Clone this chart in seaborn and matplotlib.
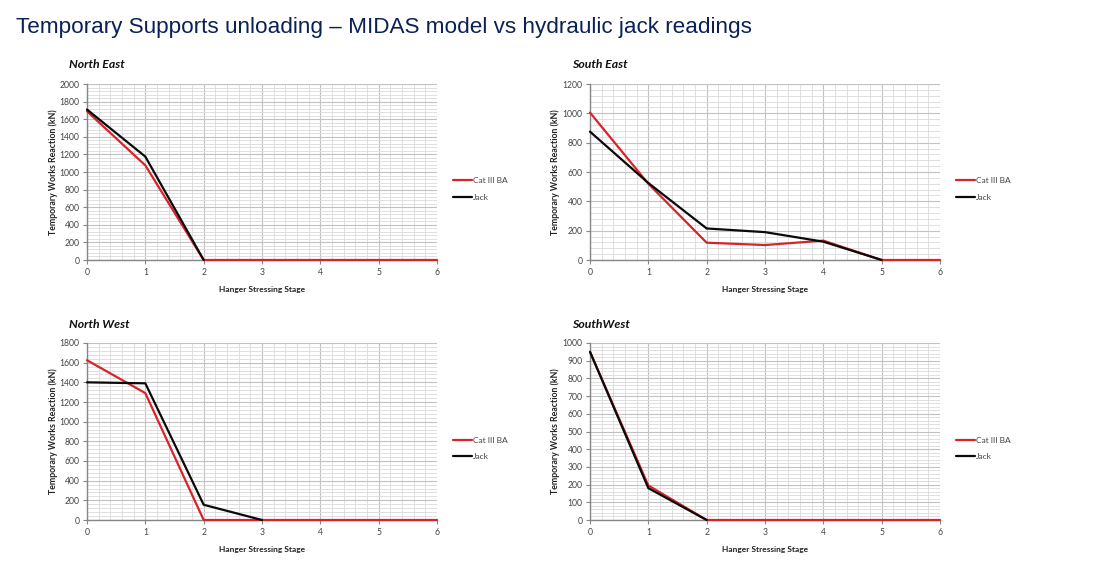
import matplotlib
matplotlib.use("Agg")
import matplotlib.pyplot as plt
from matplotlib.ticker import MultipleLocator
import pandas as pd
import seaborn as sns

sns.set_theme(style="white")
plt.rcParams['font.family'] = ['Lato', 'DejaVu Sans']

stages = [0, 1, 2, 3, 4, 5, 6]
ne_cat = [1690, 1075, 0, 0, 0, 0, 0]
ne_jack = [1710, 1175, 0, None, None, None, None]
se_cat = [1005, 520, 118, 102, 132, 0, 0]
se_jack = [875, 525, 215, 190, 125, 0, None]
nw_cat = [1625, 1290, 0, 0, 0, 0, 0]
nw_jack = [1400, 1390, 155, 0, None, None, None]
sw_cat = [950, 195, 0, 0, 0, 0, 0]
sw_jack = [950, 180, 0, None, None, None, None]

titles = ["North East", "South East", "North West", "SouthWest"]
ymaxes = [2000, 1200, 1800, 1000]
ysteps = [200, 200, 200, 100]
cats = [ne_cat, se_cat, nw_cat, sw_cat]
jacks = [ne_jack, se_jack, nw_jack, sw_jack]
boxes = [(87, 84, 437, 260), (590, 84, 940, 260), (87, 343, 437, 520), (590, 343, 940, 520)]
title_y = [64.5, 64.5, 325, 325]

W, H = 1106, 575
fig = plt.figure(figsize=(W / 100, H / 100), dpi=100, facecolor="white")
fig.text(16 / W, 1 - 27 / H, "Temporary Supports unloading \u2013 MIDAS model vs hydraulic jack readings",
         family="Liberation Sans", fontsize=16.2, color="#0b2155", va="center")

for i in range(4):
    x0, y0, x1, y1 = boxes[i]
    ax = fig.add_axes([x0 / W, 1 - y1 / H, (x1 - x0) / W, (y1 - y0) / H])
    df = pd.DataFrame({"stage": stages * 2,
                       "value": cats[i] + jacks[i],
                       "series": ["Cat III BA"] * 7 + ["Jack"] * 7}).dropna()
    sns.lineplot(data=df, x="stage", y="value", hue="series",
                 palette={"Cat III BA": "#d8232a", "Jack": "#0a0a0a"},
                 linewidth=1.6, ax=ax, clip_on=False, zorder=3, errorbar=None, sort=False)
    ax.set_xlim(0, 6)
    ax.set_ylim(0, ymaxes[i])
    ax.xaxis.set_major_locator(MultipleLocator(1))
    ax.xaxis.set_minor_locator(MultipleLocator(0.2))
    ax.yaxis.set_major_locator(MultipleLocator(ysteps[i]))
    ax.yaxis.set_minor_locator(MultipleLocator(ysteps[i] / 5))
    ax.grid(which="major", color="#c2c2c2", linewidth=0.8)
    ax.grid(which="minor", color="#dadada", linewidth=0.6)
    ax.set_axisbelow(True)
    for s in ["top", "right"]:
        ax.spines[s].set_visible(False)
    for s in ["left", "bottom"]:
        ax.spines[s].set_color("#868686")
        ax.spines[s].set_linewidth(1.0)
    ax.tick_params(axis="both", which="major", labelsize=6.2, labelcolor="#444444",
                   length=3, width=0.8, color="#868686", pad=2.5, left=True, bottom=True)
    ax.set_xlabel("Hanger Stressing Stage", fontsize=6.0, fontweight="bold", color="#222222", labelpad=6.5)
    ax.set_ylabel("Temporary Works Reaction (kN)", fontsize=6.35, fontweight="bold", color="#222222")
    ax.yaxis.set_label_coords((57.5 - x0 if i % 2 == 0 else 560.5 - x0) / (x1 - x0), 0.5)
    fig.text((x0 - 18) / W, 1 - title_y[i] / H, titles[i], fontsize=8.8, fontweight="bold",
             style="italic", color="#111111", va="center")
    h, l = ax.get_legend_handles_labels()
    ax.legend(h, l, loc="center left", bbox_to_anchor=(1.046, 0.404), frameon=False, title=None,
              fontsize=6, labelcolor="#444444", handlelength=2.3, handletextpad=0.05,
              labelspacing=1.15, borderaxespad=0, borderpad=0)

fig.savefig("out.png", dpi=100, facecolor="white")
